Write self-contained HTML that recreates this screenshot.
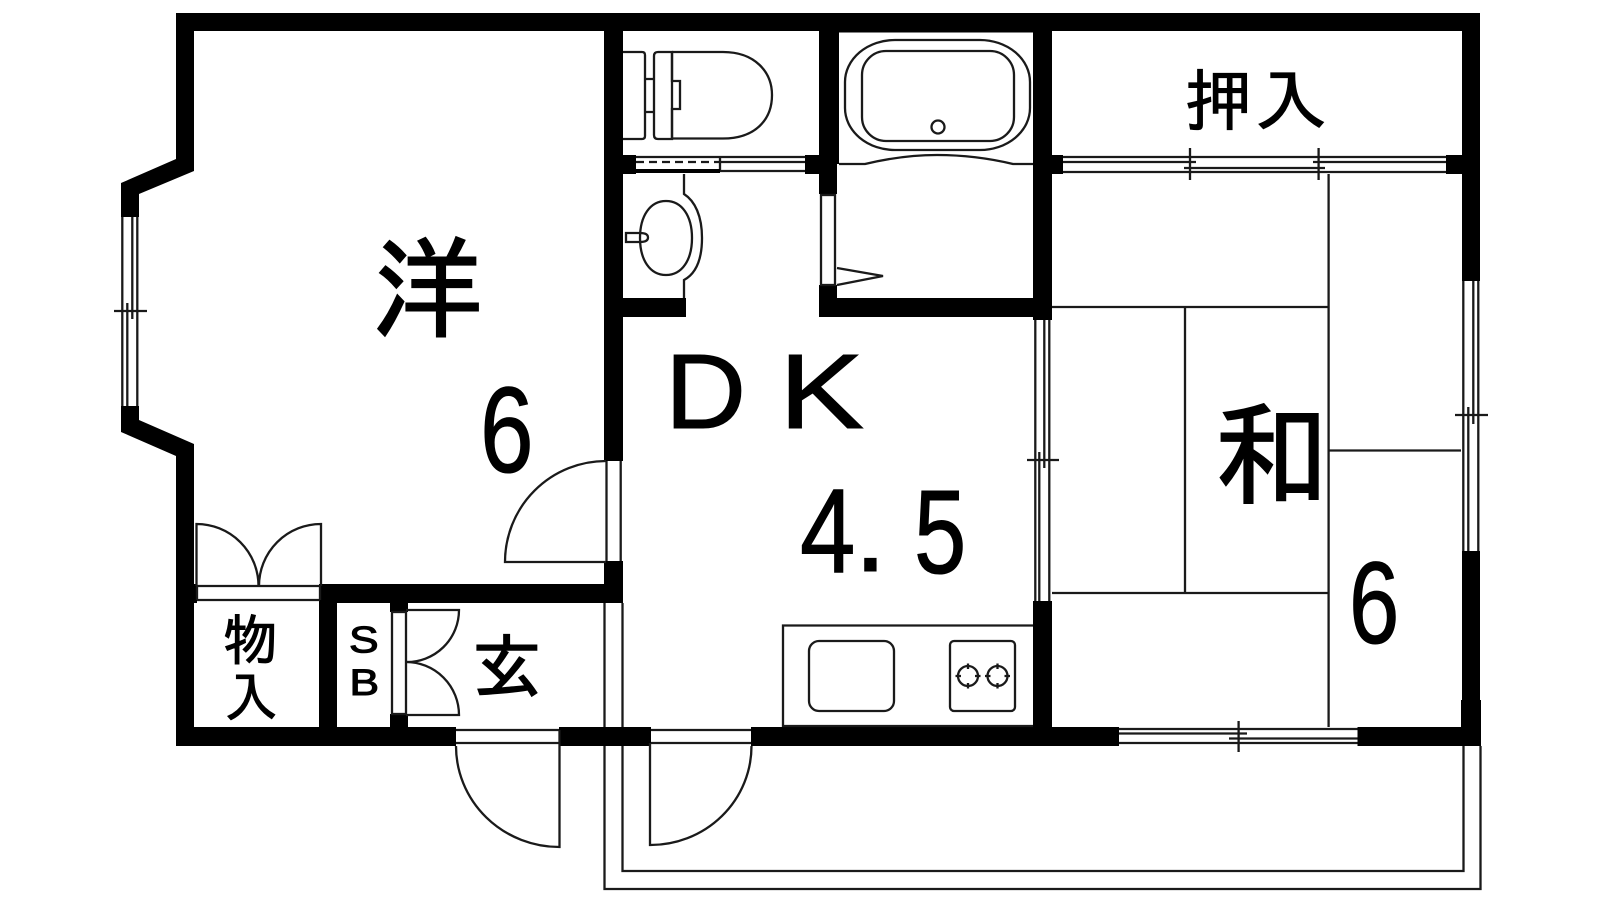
<!DOCTYPE html>
<html lang="ja">
<head>
<meta charset="utf-8">
<title>間取り図</title>
<style>
html,body{margin:0;padding:0;background:#fff;width:1600px;height:900px;overflow:hidden}
svg{display:block}
.l{fill:none;stroke:#1a1a1a;stroke-width:2.3}
.t{font-family:"Liberation Sans",sans-serif;fill:#000;stroke:#000;stroke-width:1.1}
.j{font-family:"Liberation Sans","IPAGothic","Noto Sans CJK JP",sans-serif;fill:#000;stroke:#000}
</style>
</head>
<body>
<svg width="1600" height="900" viewBox="0 0 1600 900" xmlns="http://www.w3.org/2000/svg">
<rect width="1600" height="900" fill="#fff"/>

<!-- balcony -->
<path class="l" d="M604.500 603V889H1480.500V746M622.500 603V871H1463.500V746"/>

<!-- main walls -->
<g fill="#000">
<polygon points="176,13 1480,13 1480,281 1462,281 1462,31 194,31 194,171 139,194 139,217 121,217 121,183 176,159"/>
<polygon points="121,406 139,406 139,420 194,444 194,584 176,584 176,456 121,432"/>
<rect x="176" y="584" width="18" height="162"/>
<rect x="176" y="727" width="280" height="19"/>
<rect x="559" y="727" width="92" height="19"/>
<rect x="751" y="727" width="368" height="19"/>
<rect x="1357.500" y="727" width="123" height="19"/>
<rect x="1462" y="551" width="18" height="150"/>
<rect x="1461" y="700" width="20" height="46"/>
<rect x="604" y="13" width="19" height="448"/>
<rect x="604" y="561" width="19" height="42"/>
<rect x="319" y="584" width="304" height="19"/>
<rect x="319" y="584" width="18" height="162"/>
<rect x="194" y="584" width="3" height="19"/>
<rect x="390" y="603" width="18" height="9"/>
<rect x="390" y="714" width="18" height="13"/>
<rect x="819" y="13" width="18" height="181"/>
<rect x="837" y="13" width="2" height="151"/>
<rect x="837" y="30" width="196" height="2.500"/>
<rect x="819" y="285" width="18" height="32"/>
<rect x="819" y="298" width="233" height="19"/>
<rect x="1033" y="13" width="19" height="307"/>
<rect x="1033" y="601" width="19" height="126"/>
<rect x="623" y="298" width="63" height="19"/>
<rect x="604" y="155" width="32" height="19"/>
<rect x="805" y="155" width="32" height="19"/>
<rect x="1052" y="155" width="11" height="19"/>
<rect x="1446" y="155" width="17" height="19"/>
</g>

<!-- bay window -->
<path class="l" d="M122.300 217V406M137.300 217V406M132.300 217V319M127.300 303V406M114 311H147"/>
<!-- DK window -->
<path class="l" d="M1035.300 320V601M1049.300 320V601M1044.300 320V468M1039.300 452V601M1027 460H1059"/>
<!-- washitsu east window -->
<path class="l" d="M1463.300 281V551M1478.300 281V551M1473.300 281V424M1468.300 407V551M1455 415H1488"/>
<!-- south window -->
<path class="l" d="M1119 729H1357.500M1119 743H1357.500M1119 733.500H1247M1229 738.500H1357.500M1238.600 721V752"/>
<!-- oshiire window -->
<path class="l" d="M1063 157H1446M1063 172H1446M1063 162H1196M1184 168H1325M1313 162H1446M1190 148V180M1318.600 148V180"/>
<!-- toilet/wash window -->
<path class="l" d="M636 157H805M720 162H805M720 171H805M720 157V172"/>
<path d="M636 162H720" fill="none" stroke="#1a1a1a" stroke-width="2.300" stroke-dasharray="8 5"/>
<rect x="636" y="169" width="84" height="4" fill="#000"/>

<!-- toilet -->
<path class="l" d="M623 52H642Q645 52 645 55V136Q645 139 642 139H623"/>
<path class="l" d="M645 79H654M645 112H654"/>
<path class="l" d="M672 52H658Q654 52 654 56V135Q654 139 658 139H672Z"/>
<path class="l" d="M672 52H723C755 52 772 72 772 95C772 120 755 138.500 723 138.500H672M672 52V81H680V109H672V139"/>

<!-- basin -->
<path class="l" d="M684 174V194C695 201 702 216 702 238C702 258 697 273 684 280V298"/>
<path class="l" d="M666 201C682 201 692 216 692 238C692 260 682 275 666 275C650 275 640 260 640 238C640 216 650 201 666 201Z"/>
<path class="l" d="M640 233H626V242H640C646 242 648 240 648 237.500C648 235 646 233 640 233Z"/>

<!-- bath -->
<rect class="l" x="845" y="40" width="185" height="110" rx="50" ry="42"/>
<rect class="l" x="862" y="51" width="152" height="90" rx="24" ry="24"/>
<circle class="l" cx="938" cy="127" r="6.500"/>
<path class="l" d="M839 164H865C890 158 915 155 937 155C960 155 988 158 1013 164H1033"/>
<rect class="l" x="821" y="195" width="14" height="90"/>
<path class="l" d="M837 268L883 276L837 285"/>

<!-- tatami -->
<path class="l" d="M1328.600 174V727M1052 307H1328.600M1185 307V593M1052 593H1328.600M1328.600 450.500H1461"/>

<!-- DK door -->
<path class="l" d="M606.500 461V561M620.700 461V561"/>
<path class="l" d="M606 461A101 101 0 0 0 505 562H606"/>
<!-- closet doors -->
<path class="l" d="M197 586H320M197 600H320M196.500 586V524A62 62 0 0 1 258.500 586M321 586V524A62 62 0 0 0 259 586M320 586V600M197 586V600"/>
<!-- SB doors -->
<rect class="l" x="392" y="612" width="14" height="102"/>
<path class="l" d="M406 610H459A52 52 0 0 1 406 662A53 53 0 0 1 459 715H406"/>
<!-- entrance door -->
<path class="l" d="M456 730H559M456 743H559"/>
<path class="l" d="M456 746A103.500 101 0 0 0 559.500 847V730"/>
<!-- balcony door -->
<path class="l" d="M651 730H751M651 743H751"/>
<path class="l" d="M650 743V845A101 99 0 0 0 751.500 746"/>

<!-- kitchen -->
<path class="l" d="M783 727V625.500H1033M783 726H1033"/>
<rect class="l" x="809" y="641" width="85" height="70" rx="10" ry="10"/>
<rect class="l" x="950" y="641" width="65" height="70" rx="4" ry="4"/>
<circle class="l" cx="968" cy="676" r="10"/>
<circle class="l" cx="997.500" cy="676" r="10"/>
<path class="l" d="M968 663.500V669M968 683V688.500M955.500 676H961M975 676H980.500M997.500 663.500V669M997.500 683V688.500M985 676H990.500M1004.500 676H1010"/>

<!-- labels -->
<text class="j" stroke-width="2" x="372" y="329" font-size="111">洋</text>
<text class="t" transform="translate(480 472) scale(.79 1)" font-size="122">6</text>
<text class="t" transform="translate(665 428) scale(1.06 1)" font-size="106">D</text>
<text class="t" transform="translate(779 428) scale(1.2 1)" font-size="106">K</text>
<text class="t" transform="translate(800 572) scale(.83 1)" font-size="120">4</text>
<text class="t" x="854" y="571" font-size="118">.</text>
<text class="t" transform="translate(914 573) scale(.79 1)" font-size="119">5</text>
<text class="j" stroke-width="2" x="1214" y="495" font-size="115">和</text>
<text class="t" transform="translate(1349 643) scale(.78 1)" font-size="116">6</text>
<text class="j" stroke-width="1.200" x="1185" y="125" font-size="67">押</text>
<text class="j" stroke-width="1.200" transform="translate(1254 125) scale(1.1 1)" font-size="67">入</text>
<text class="j" stroke-width="1" x="223" y="660" font-size="55">物</text>
<text class="j" stroke-width="1" x="224" y="717" font-size="54">入</text>
<text class="t" stroke-width=".3" transform="translate(349 652.500) scale(1.2 1)" font-size="37">S</text>
<text class="t" stroke-width=".3" transform="translate(349.500 695) scale(1.2 1)" font-size="37">B</text>
<text class="j" stroke-width="1.500" x="472" y="692" font-size="70">玄</text>
</svg>
</body>
</html>
